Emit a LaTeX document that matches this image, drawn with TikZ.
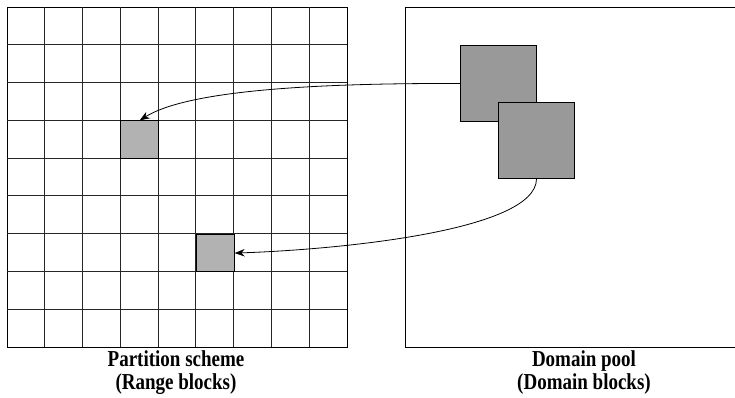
\documentclass[tikz,border=0pt]{standalone}
\usepackage{fontspec}
\setmainfont{Liberation Serif}
\usetikzlibrary{arrows.meta}
\newcommand{\tallline}[1]{\scalebox{1}[1.2]{#1}}
\begin{document}
\begin{tikzpicture}[x=1pt,y=-1pt,
  gridline/.style={line width=1pt, draw=black!85},
  boxframe/.style={draw=black, line width=1pt, inner sep=0pt, anchor=north west},
  rangecell/.style={fill=black!30, draw=black, line width=1pt, inner sep=0pt, minimum size=37.78pt, anchor=north west},
  domcell/.style={fill=black!40, draw=black, line width=1pt, inner sep=0pt, minimum size=76pt, anchor=north west},
  linkarrow/.style={line width=0.8pt, -{Stealth[length=10pt,width=7.5pt]}},
  lbltext/.style={font=\bfseries\fontsize{19}{23}\selectfont, align=center, inner sep=0pt}]
\useasboundingbox (0,0) rectangle (735,398);
\fill[white] (0,0) rectangle (735,398);
% partition grid
\node[boxframe, minimum size=340pt] (grid) at (7,7) {};
\foreach \i in {1,...,8} {
  \draw[gridline] ({7+37.78*\i},7) -- ({7+37.78*\i},347);
  \draw[gridline] (7,{7+37.78*\i}) -- (347,{7+37.78*\i});
}
\node[rangecell] (r1) at (120.34,120.34) {};
\node[rangecell] (r2) at (195.9,233.68) {};
% domain pool (its right side lies beyond the picture's edge)
\node[boxframe, minimum width=362pt, minimum height=340pt] (pool) at (404.5,7) {};
\node[domcell] (d1) at (460,45) {};
\node[domcell] (d2) at (498,102) {};
% connectors
\draw[linkarrow] (d1.west) .. controls (300,83) and (185,92) .. (r1.north);
\draw[linkarrow] (d2.south) .. controls (536,232) and (330,250) .. (r2.east);
% labels
\node[lbltext] (lblL) at (176,373) {\tallline{Partition scheme}\\\tallline{(Range blocks)}};
\node[lbltext] (lblR) at (584,373) {\tallline{Domain pool}\\\tallline{(Domain blocks)}};
\end{tikzpicture}
\end{document}
